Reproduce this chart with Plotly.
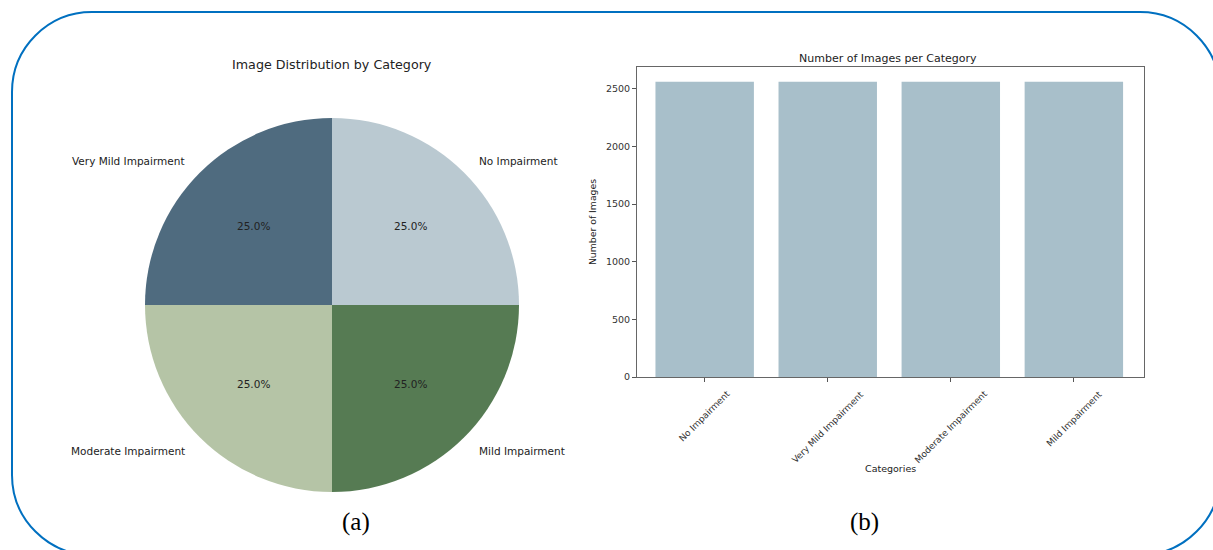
import math
import plotly.graph_objects as go

# ---- data ----
pie_labels = ["No Impairment", "Very Mild Impairment", "Moderate Impairment", "Mild Impairment"]
pie_values = [2560, 2560, 2560, 2560]
pie_colors = ["#bac9d1", "#4f6b7f", "#b5c4a6", "#567b53"]

bar_categories = ["No Impairment", "Very Mild Impairment", "Moderate Impairment", "Mild Impairment"]
bar_counts = [2560, 2560, 2560, 2560]
bar_color = "#a8bfca"
y_ticks = [0, 500, 1000, 1500, 2000, 2500]

W, H = 1213, 550
H_EFF = 545  # effective vertical paper extent observed in render


def px(x):
    return x / W


def py(y):
    return 1 - y / H_EFF


fig = go.Figure()

# ---- pie (a) ----
cx, cy, r = 332, 305, 186
dom_r = 187
fig.add_trace(go.Pie(
    labels=pie_labels, values=pie_values, sort=False,
    direction="counterclockwise", rotation=0,
    marker=dict(colors=pie_colors, line=dict(width=0)),
    textinfo="none", hoverinfo="label+percent", showlegend=False,
    domain=dict(x=[px(cx - dom_r), px(cx + dom_r)], y=[py(cy + dom_r), py(cy - dom_r)]),
))

annotations = []
total = sum(pie_values)
cum = 0
for lab, v in zip(pie_labels, pie_values):
    mid = 2 * math.pi * (cum + v / 2) / total
    cum += v
    c, s = math.cos(mid), math.sin(mid)
    # outer label
    lx, ly = cx + 1.1 * r * c, cy - 1.1 * r * s
    annotations.append(dict(
        x=px(lx), y=py(ly), xref="paper", yref="paper", text=lab, showarrow=False,
        xanchor="left" if c > 0 else "right", yanchor="middle", yshift=-1,
        font=dict(family="DejaVu Sans", size=10.5, color="#222"),
    ))
    # percent label
    tx, ty = cx + 0.6 * r * c, cy - 0.6 * r * s
    annotations.append(dict(
        x=px(tx), y=py(ty), xref="paper", yref="paper",
        text=f"{100 * v / total:.1f}%", showarrow=False,
        xanchor="center", yanchor="middle",
        font=dict(family="DejaVu Sans", size=10.5, color="#222"),
    ))

annotations.append(dict(
    x=px(332), y=py(64), xref="paper", yref="paper", text="Image Distribution by Category",
    showarrow=False, xanchor="center", yanchor="middle",
    font=dict(family="DejaVu Sans", size=12.7, color="#222"),
))

# ---- bar (b) ----
fig.add_trace(go.Bar(
    x=bar_categories, y=bar_counts, marker=dict(color=bar_color, line=dict(width=0)),
    width=0.8, showlegend=False, xaxis="x", yaxis="y",
))

ax_l, ax_r, ax_t, ax_b = 637, 1144, 67, 377
fig.update_layout(
    xaxis=dict(
        domain=[px(ax_l), px(ax_r)], anchor="y", type="category",
        range=[-0.55, 3.57], showticklabels=False, ticks="outside", ticklen=4,
        tickcolor="#555", showline=True, mirror=True, linecolor="#666", linewidth=1,
        showgrid=False, zeroline=False,
    ),
    yaxis=dict(
        domain=[py(ax_b), py(ax_t)], anchor="x", range=[0, 2688],
        tickvals=y_ticks, ticks="outside", ticklen=4, tickcolor="#555",
        tickfont=dict(family="DejaVu Sans", size=9.5, color="#333"),
        showline=True, mirror=True, linecolor="#666", linewidth=1,
        showgrid=False, zeroline=False,
        title=dict(text="Number of Images", standoff=7,
                   font=dict(family="DejaVu Sans", size=9.3, color="#222")),
    ),
)

for cat in bar_categories:
    annotations.append(dict(
        x=cat, y=py(ax_b), xref="x", yref="paper", text=cat, showarrow=False,
        textangle=-45, xanchor="center", yanchor="top", yshift=-9,
        font=dict(family="DejaVu Sans", size=9, color="#333"),
    ))

annotations.append(dict(
    x=px((ax_l + ax_r) / 2), y=py(468), xref="paper", yref="paper", text="Categories",
    showarrow=False, xanchor="center", yanchor="middle",
    font=dict(family="DejaVu Sans", size=9.5, color="#222"),
))
annotations.append(dict(
    x=px(888), y=py(58), xref="paper", yref="paper", text="Number of Images per Category",
    showarrow=False, xanchor="center", yanchor="middle",
    font=dict(family="DejaVu Sans", size=11, color="#222"),
))

# ---- captions ----
for txt, x in [("(a)", 356), ("(b)", 864)]:
    annotations.append(dict(
        x=px(x), y=py(522), xref="paper", yref="paper", text=txt, showarrow=False,
        xanchor="center", yanchor="middle",
        font=dict(family="Liberation Serif", size=25, color="#000"),
    ))

# ---- rounded border ----
L, T, R_, B, rad = 12, 12, 1220, 555, 80
k = 0.5523 * rad


def P(x, y):
    return f"{px(x):.5f},{py(y):.5f}"


path = (
    f"M {P(L + rad, T)} L {P(R_ - rad, T)} "
    f"C {P(R_ - rad + k, T)} {P(R_, T + rad - k)} {P(R_, T + rad)} "
    f"L {P(R_, B - rad)} "
    f"C {P(R_, B - rad + k)} {P(R_ - rad + k, B)} {P(R_ - rad, B)} "
    f"L {P(L + rad, B)} "
    f"C {P(L + rad - k, B)} {P(L, B - rad + k)} {P(L, B - rad)} "
    f"L {P(L, T + rad)} "
    f"C {P(L, T + rad - k)} {P(L + rad - k, T)} {P(L + rad, T)} Z"
)

fig.update_layout(
    width=W, height=H, margin=dict(l=0, r=0, t=0, b=0),
    paper_bgcolor="white", plot_bgcolor="white",
    annotations=annotations,
    shapes=[dict(type="path", path=path, xref="paper", yref="paper",
                 line=dict(color="#0070c0", width=2), layer="above")],
    bargap=0.2,
)

fig.write_html("out.html")
